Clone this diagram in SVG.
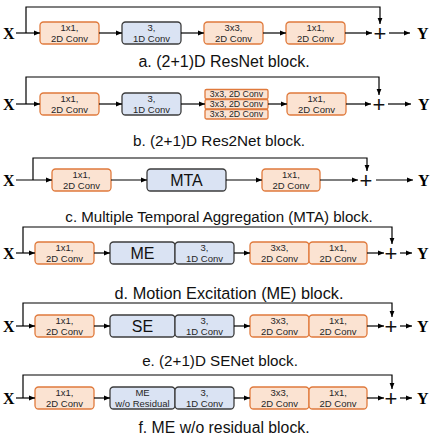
<svg xmlns="http://www.w3.org/2000/svg" width="436" height="436" viewBox="0 0 436 436">
<style>
.o{fill:#fbe3d2;stroke:#e07a3c;stroke-width:1.3}
.b{fill:#dae3f3;stroke:#3c3c3c;stroke-width:1.3}
.t{font-family:"Liberation Sans",Arial,sans-serif;font-size:9.5px;fill:#262626;text-anchor:middle}
.s{font-family:"Liberation Sans",Arial,sans-serif;font-size:8.8px;fill:#262626;text-anchor:middle}
.big{font-family:"Liberation Sans",Arial,sans-serif;font-size:16px;fill:#111;text-anchor:middle}
.cap{font-family:"Liberation Sans",Arial,sans-serif;font-size:15.5px;fill:#111;text-anchor:middle}
.xy{font-family:"Liberation Serif","Times New Roman",serif;font-weight:bold;font-size:16px;fill:#000}
.pl{font-family:"Liberation Sans",Arial,sans-serif;font-size:22px;fill:#111;text-anchor:middle}
.ln{fill:none;stroke:#000;stroke-width:1.2}
</style>
<defs>
<marker id="ah" viewBox="0 0 6 6" refX="6" refY="3" markerWidth="6" markerHeight="6" markerUnits="userSpaceOnUse" orient="auto"><path d="M0,0.6 L6,3 L0,5.4 z" fill="#000"/></marker>
</defs>

<!-- Row a -->
<g id="a-x"><text class="xy" x="3" y="39">X</text></g>
<g id="a-n1"><rect class="o" x="40" y="22" width="59" height="22" rx="3.5"/><text class="t" x="69.5" y="30.5">1x1,</text><text class="t" x="69.5" y="41.5">2D Conv</text></g>
<g id="a-n2"><rect class="b" x="122" y="22" width="59" height="22" rx="3.5"/><text class="t" x="151.5" y="30.5">3,</text><text class="t" x="151.5" y="41.5">1D Conv</text></g>
<g id="a-n3"><rect class="o" x="204" y="22" width="59" height="22" rx="3.5"/><text class="t" x="233.5" y="30.5">3x3,</text><text class="t" x="233.5" y="41.5">2D Conv</text></g>
<g id="a-n4"><rect class="o" x="286" y="22" width="59" height="22" rx="3.5"/><text class="t" x="315.5" y="30.5">1x1,</text><text class="t" x="315.5" y="41.5">2D Conv</text></g>
<g id="a-plus"><text class="pl" x="380" y="40.8">+</text></g>
<g id="a-y"><text class="xy" x="417" y="39">Y</text></g>
<g id="a-cap"><text class="cap" x="224" y="67" style="font-size:16px">a. (2+1)D ResNet block.</text></g>

<!-- Row b -->
<g id="b-x"><text class="xy" x="3" y="110">X</text></g>
<g id="b-n1"><rect class="o" x="40" y="93" width="59" height="22" rx="3.5"/><text class="t" x="69.5" y="101.5">1x1,</text><text class="t" x="69.5" y="112.5">2D Conv</text></g>
<g id="b-n2"><rect class="b" x="122" y="93" width="59" height="22" rx="3.5"/><text class="t" x="151.5" y="101.5">3,</text><text class="t" x="151.5" y="112.5">1D Conv</text></g>
<g id="b-n3">
<rect class="o" x="205" y="89.5" width="63" height="9.5" rx="1.5"/><text class="s" x="236.5" y="97.3">3x3, 2D Conv</text>
<rect class="o" x="205" y="99.5" width="63" height="9.5" rx="1.5"/><text class="s" x="236.5" y="107.3">3x3, 2D Conv</text>
<rect class="o" x="205" y="109.5" width="63" height="9.5" rx="1.5"/><text class="s" x="236.5" y="117.3">3x3, 2D Conv</text>
</g>
<g id="b-n4"><rect class="o" x="287" y="93" width="59" height="22" rx="3.5"/><text class="t" x="316.5" y="101.5">1x1,</text><text class="t" x="316.5" y="112.5">2D Conv</text></g>
<g id="b-plus"><text class="pl" x="379" y="111.8">+</text></g>
<g id="b-y"><text class="xy" x="418" y="110">Y</text></g>
<g id="b-cap"><text class="cap" x="219" y="146" style="font-size:15.3px">b. (2+1)D Res2Net block.</text></g>

<!-- Row c -->
<g id="c-x"><text class="xy" x="3" y="186">X</text></g>
<g id="c-n1"><rect class="o" x="52" y="169" width="59" height="22" rx="3.5"/><text class="t" x="81.5" y="177.5">1x1,</text><text class="t" x="81.5" y="188.5">2D Conv</text></g>
<g id="c-n2"><rect class="b" x="147" y="169" width="79" height="22" rx="3.5"/><text class="big" x="186.5" y="186">MTA</text></g>
<g id="c-n3"><rect class="o" x="262" y="169" width="58" height="22" rx="3.5"/><text class="t" x="291" y="177.5">1x1,</text><text class="t" x="291" y="188.5">2D Conv</text></g>
<g id="c-plus"><text class="pl" x="366" y="187.8">+</text></g>
<g id="c-y"><text class="xy" x="418" y="186">Y</text></g>
<g id="c-cap"><text class="cap" x="219" y="222" style="font-size:15.1px">c. Multiple Temporal Aggregation (MTA) block.</text></g>

<!-- Row d -->
<g id="d-x"><text class="xy" x="3" y="259">X</text></g>
<g id="d-n1"><rect class="o" x="35" y="242" width="59" height="22" rx="3.5"/><text class="t" x="64.5" y="250.5">1x1,</text><text class="t" x="64.5" y="261.5">2D Conv</text></g>
<g id="d-n2"><rect class="b" x="110" y="242" width="65" height="22" rx="3.5"/><text class="big" x="142.5" y="259">ME</text></g>
<g id="d-n3"><rect class="b" x="175" y="242" width="59" height="22" rx="3.5"/><text class="t" x="204.5" y="250.5">3,</text><text class="t" x="204.5" y="261.5">1D Conv</text></g>
<g id="d-n4"><rect class="o" x="250" y="242" width="59" height="22" rx="3.5"/><text class="t" x="279.5" y="250.5">3x3,</text><text class="t" x="279.5" y="261.5">2D Conv</text></g>
<g id="d-n5"><rect class="o" x="309" y="242" width="58" height="22" rx="3.5"/><text class="t" x="338" y="250.5">1x1,</text><text class="t" x="338" y="261.5">2D Conv</text></g>
<g id="d-plus"><text class="pl" x="391" y="260.8">+</text></g>
<g id="d-y"><text class="xy" x="417" y="259">Y</text></g>
<g id="d-cap"><text class="cap" x="229" y="299" style="font-size:16.3px">d. Motion Excitation (ME) block.</text></g>

<!-- Row e -->
<g id="e-x"><text class="xy" x="3" y="332">X</text></g>
<g id="e-n1"><rect class="o" x="35" y="315" width="59" height="22" rx="3.5"/><text class="t" x="64.5" y="323.5">1x1,</text><text class="t" x="64.5" y="334.5">2D Conv</text></g>
<g id="e-n2"><rect class="b" x="110" y="315" width="65" height="22" rx="3.5"/><text class="big" x="142.5" y="332">SE</text></g>
<g id="e-n3"><rect class="b" x="175" y="315" width="59" height="22" rx="3.5"/><text class="t" x="204.5" y="323.5">3,</text><text class="t" x="204.5" y="334.5">1D Conv</text></g>
<g id="e-n4"><rect class="o" x="250" y="315" width="59" height="22" rx="3.5"/><text class="t" x="279.5" y="323.5">3x3,</text><text class="t" x="279.5" y="334.5">2D Conv</text></g>
<g id="e-n5"><rect class="o" x="309" y="315" width="58" height="22" rx="3.5"/><text class="t" x="338" y="323.5">1x1,</text><text class="t" x="338" y="334.5">2D Conv</text></g>
<g id="e-plus"><text class="pl" x="391" y="333.8">+</text></g>
<g id="e-y"><text class="xy" x="417" y="332">Y</text></g>
<g id="e-cap"><text class="cap" x="220" y="366" style="font-size:15.2px">e. (2+1)D SENet block.</text></g>

<!-- Row f -->
<g id="f-x"><text class="xy" x="3" y="404">X</text></g>
<g id="f-n1"><rect class="o" x="35" y="387" width="59" height="22" rx="3.5"/><text class="t" x="64.5" y="395.5">1x1,</text><text class="t" x="64.5" y="406.5">2D Conv</text></g>
<g id="f-n2"><rect class="b" x="110" y="387" width="65" height="22" rx="3.5"/><text class="t" x="142.5" y="395.5">ME</text><text class="t" x="142.5" y="406.5">w/o Residual</text></g>
<g id="f-n3"><rect class="b" x="175" y="387" width="59" height="22" rx="3.5"/><text class="t" x="204.5" y="395.5">3,</text><text class="t" x="204.5" y="406.5">1D Conv</text></g>
<g id="f-n4"><rect class="o" x="250" y="387" width="59" height="22" rx="3.5"/><text class="t" x="279.5" y="395.5">3x3,</text><text class="t" x="279.5" y="406.5">2D Conv</text></g>
<g id="f-n5"><rect class="o" x="309" y="387" width="58" height="22" rx="3.5"/><text class="t" x="338" y="395.5">1x1,</text><text class="t" x="338" y="406.5">2D Conv</text></g>
<g id="f-plus"><text class="pl" x="391" y="405.8">+</text></g>
<g id="f-y"><text class="xy" x="417" y="404">Y</text></g>
<g id="f-cap"><text class="cap" x="224" y="433" style="font-size:15.8px">f. ME w/o residual block.</text></g>

<g id="connectors" class="ln">
<!-- a -->
<path class="ln" d="M16,33 H40" marker-end="url(#ah)"/>
<path class="ln" d="M26,33 V7 H380 V24" marker-end="url(#ah)"/>
<path class="ln" d="M99,33 H122" marker-end="url(#ah)"/>
<path class="ln" d="M181,33 H204" marker-end="url(#ah)"/>
<path class="ln" d="M263,33 H286" marker-end="url(#ah)"/>
<path class="ln" d="M345,33 H372" marker-end="url(#ah)"/>
<path class="ln" d="M389,33 H410" marker-end="url(#ah)"/>
<!-- b -->
<path class="ln" d="M16,104 H40" marker-end="url(#ah)"/>
<path class="ln" d="M26,104 V77 H379 V95" marker-end="url(#ah)"/>
<path class="ln" d="M99,104 H122" marker-end="url(#ah)"/>
<path class="ln" d="M181,104 H205" marker-end="url(#ah)"/>
<path class="ln" d="M268,104 H287" marker-end="url(#ah)"/>
<path class="ln" d="M346,104 H371" marker-end="url(#ah)"/>
<path class="ln" d="M388,104 H411" marker-end="url(#ah)"/>
<!-- c -->
<path class="ln" d="M16,180 H52" marker-end="url(#ah)"/>
<path class="ln" d="M33,180 V158 H367 V171" marker-end="url(#ah)"/>
<path class="ln" d="M111,180 H147" marker-end="url(#ah)"/>
<path class="ln" d="M226,180 H262" marker-end="url(#ah)"/>
<path class="ln" d="M320,180 H358" marker-end="url(#ah)"/>
<path class="ln" d="M376,180 H413" marker-end="url(#ah)"/>
<!-- d -->
<path class="ln" d="M16,253 H35" marker-end="url(#ah)"/>
<path class="ln" d="M23,253 V227 H392 V244" marker-end="url(#ah)"/>
<path class="ln" d="M94,253 H110" marker-end="url(#ah)"/>
<path class="ln" d="M234,253 H250" marker-end="url(#ah)"/>
<path class="ln" d="M367,253 H384" marker-end="url(#ah)"/>
<path class="ln" d="M400,253 H412" marker-end="url(#ah)"/>
<!-- e -->
<path class="ln" d="M16,326 H35" marker-end="url(#ah)"/>
<path class="ln" d="M23,326 V303 H392 V317" marker-end="url(#ah)"/>
<path class="ln" d="M94,326 H110" marker-end="url(#ah)"/>
<path class="ln" d="M234,326 H250" marker-end="url(#ah)"/>
<path class="ln" d="M367,326 H384" marker-end="url(#ah)"/>
<path class="ln" d="M400,326 H412" marker-end="url(#ah)"/>
<!-- f -->
<path class="ln" d="M16,398 H35" marker-end="url(#ah)"/>
<path class="ln" d="M23,398 V375 H392 V389" marker-end="url(#ah)"/>
<path class="ln" d="M94,398 H110" marker-end="url(#ah)"/>
<path class="ln" d="M234,398 H250" marker-end="url(#ah)"/>
<path class="ln" d="M367,398 H384" marker-end="url(#ah)"/>
<path class="ln" d="M400,398 H412" marker-end="url(#ah)"/>
</g>
</svg>
